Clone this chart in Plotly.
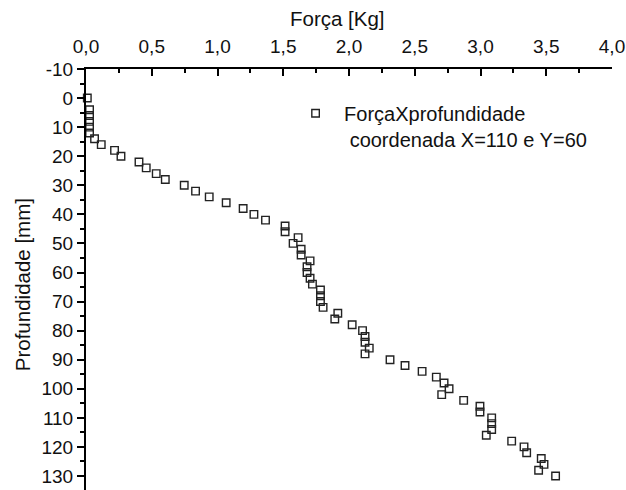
import plotly.graph_objects as go

# Data
profundidade_mm = [0, 4, 6, 8, 10, 12, 14, 16, 18, 20, 22, 24, 26, 28, 30, 32, 34, 36, 38, 40,
                   42, 44, 46, 48, 50, 52, 54, 56, 58, 60, 62, 64, 66, 68, 70, 72, 74, 76, 78, 80,
                   82, 84, 86, 88, 90, 92, 94, 96, 98, 100, 102, 104, 106, 108, 110, 112, 114, 116,
                   118, 120, 122, 124, 126, 128, 130]
forca_kg = [0.01, 0.027, 0.027, 0.027, 0.027, 0.027, 0.065, 0.116, 0.217, 0.266, 0.403, 0.458,
            0.534, 0.603, 0.747, 0.833, 0.937, 1.066, 1.195, 1.277, 1.365, 1.514, 1.514, 1.613,
            1.575, 1.636, 1.636, 1.704, 1.681, 1.681, 1.704, 1.722, 1.783, 1.783, 1.783, 1.803,
            1.915, 1.892, 2.024, 2.103, 2.122, 2.122, 2.154, 2.122, 2.312, 2.426, 2.556, 2.664,
            2.723, 2.761, 2.705, 2.872, 2.996, 2.996, 3.085, 3.085, 3.085, 3.044, 3.237, 3.331,
            3.351, 3.462, 3.483, 3.442, 3.571]

y_tickvals = [-10, 0, 10, 20, 30, 40, 50, 60, 70, 80, 90, 100, 110, 120, 130]
y_ticktext = ["-10", "0", "10", "20", "30", "40", "50", "60", "70", "80", "90", "100", "110", "120", "130"]

series_name = "ForçaXprofundidade<br>\u00a0coordenada X=110 e Y=60"
x_title = "Força [Kg]"
y_title = "Profundidade [mm]"

W, H = 626, 490
L, R, T, B = 85.7, 13.7, 69.3, 0
PW, PH = W - L - R, H - T - B

FONT = "Liberation Sans, Arial, sans-serif"

fig = go.Figure()
fig.add_trace(go.Scatter(
    x=forca_kg, y=profundidade_mm, mode="markers", name=series_name,
    marker=dict(symbol="square-open", size=7.5, color="#222", line=dict(width=1.4, color="#222")),
    cliponaxis=False,
))

fig.update_layout(
    width=W, height=H,
    margin=dict(l=L, r=R, t=T, b=B, pad=0),
    paper_bgcolor="white", plot_bgcolor="white",
    separators=",.",
    font=dict(family=FONT, size=19, color="#111"),
    showlegend=True,
    legend=dict(x=(287 - L) / PW, y=1 - (94 - T) / PH, xanchor="left", yanchor="top",
                bgcolor="rgba(0,0,0,0)", font=dict(size=20), itemwidth=47, valign="top"),
    annotations=[
        dict(text=x_title, xref="paper", yref="paper", x=(337 - L) / PW,
             y=1 + (T - 19) / PH, xanchor="center", yanchor="middle",
             showarrow=False, font=dict(size=20.5)),
        dict(text=y_title, xref="paper", yref="paper", x=(22 - L) / PW,
             y=1 - (285 - T) / PH, xanchor="center", yanchor="middle",
             textangle=-90, showarrow=False, font=dict(size=20.5)),
    ],
)

fig.update_xaxes(
    side="top", range=[0, 4], dtick=0.5, tick0=0, tickformat=".1f",
    showline=True, linewidth=2, linecolor="black", mirror=False,
    ticks="inside", ticklen=7, tickwidth=2, tickcolor="black",
    minor=dict(ticks="inside", ticklen=4, tickwidth=2, dtick=0.25, tickcolor="black"),
    showgrid=False, zeroline=False, ticklabelstandoff=6,
)
fig.update_yaxes(
    range=[-10 + PH / 2.905, -10], tickvals=y_tickvals, ticktext=y_ticktext,
    showline=True, linewidth=2, linecolor="black", mirror=False,
    ticks="outside", ticklen=7, tickwidth=2, tickcolor="black",
    minor=dict(ticks="outside", ticklen=4, tickwidth=2, dtick=5, tickcolor="black"),
    showgrid=False, zeroline=False,
)

fig.write_html("out.html")
